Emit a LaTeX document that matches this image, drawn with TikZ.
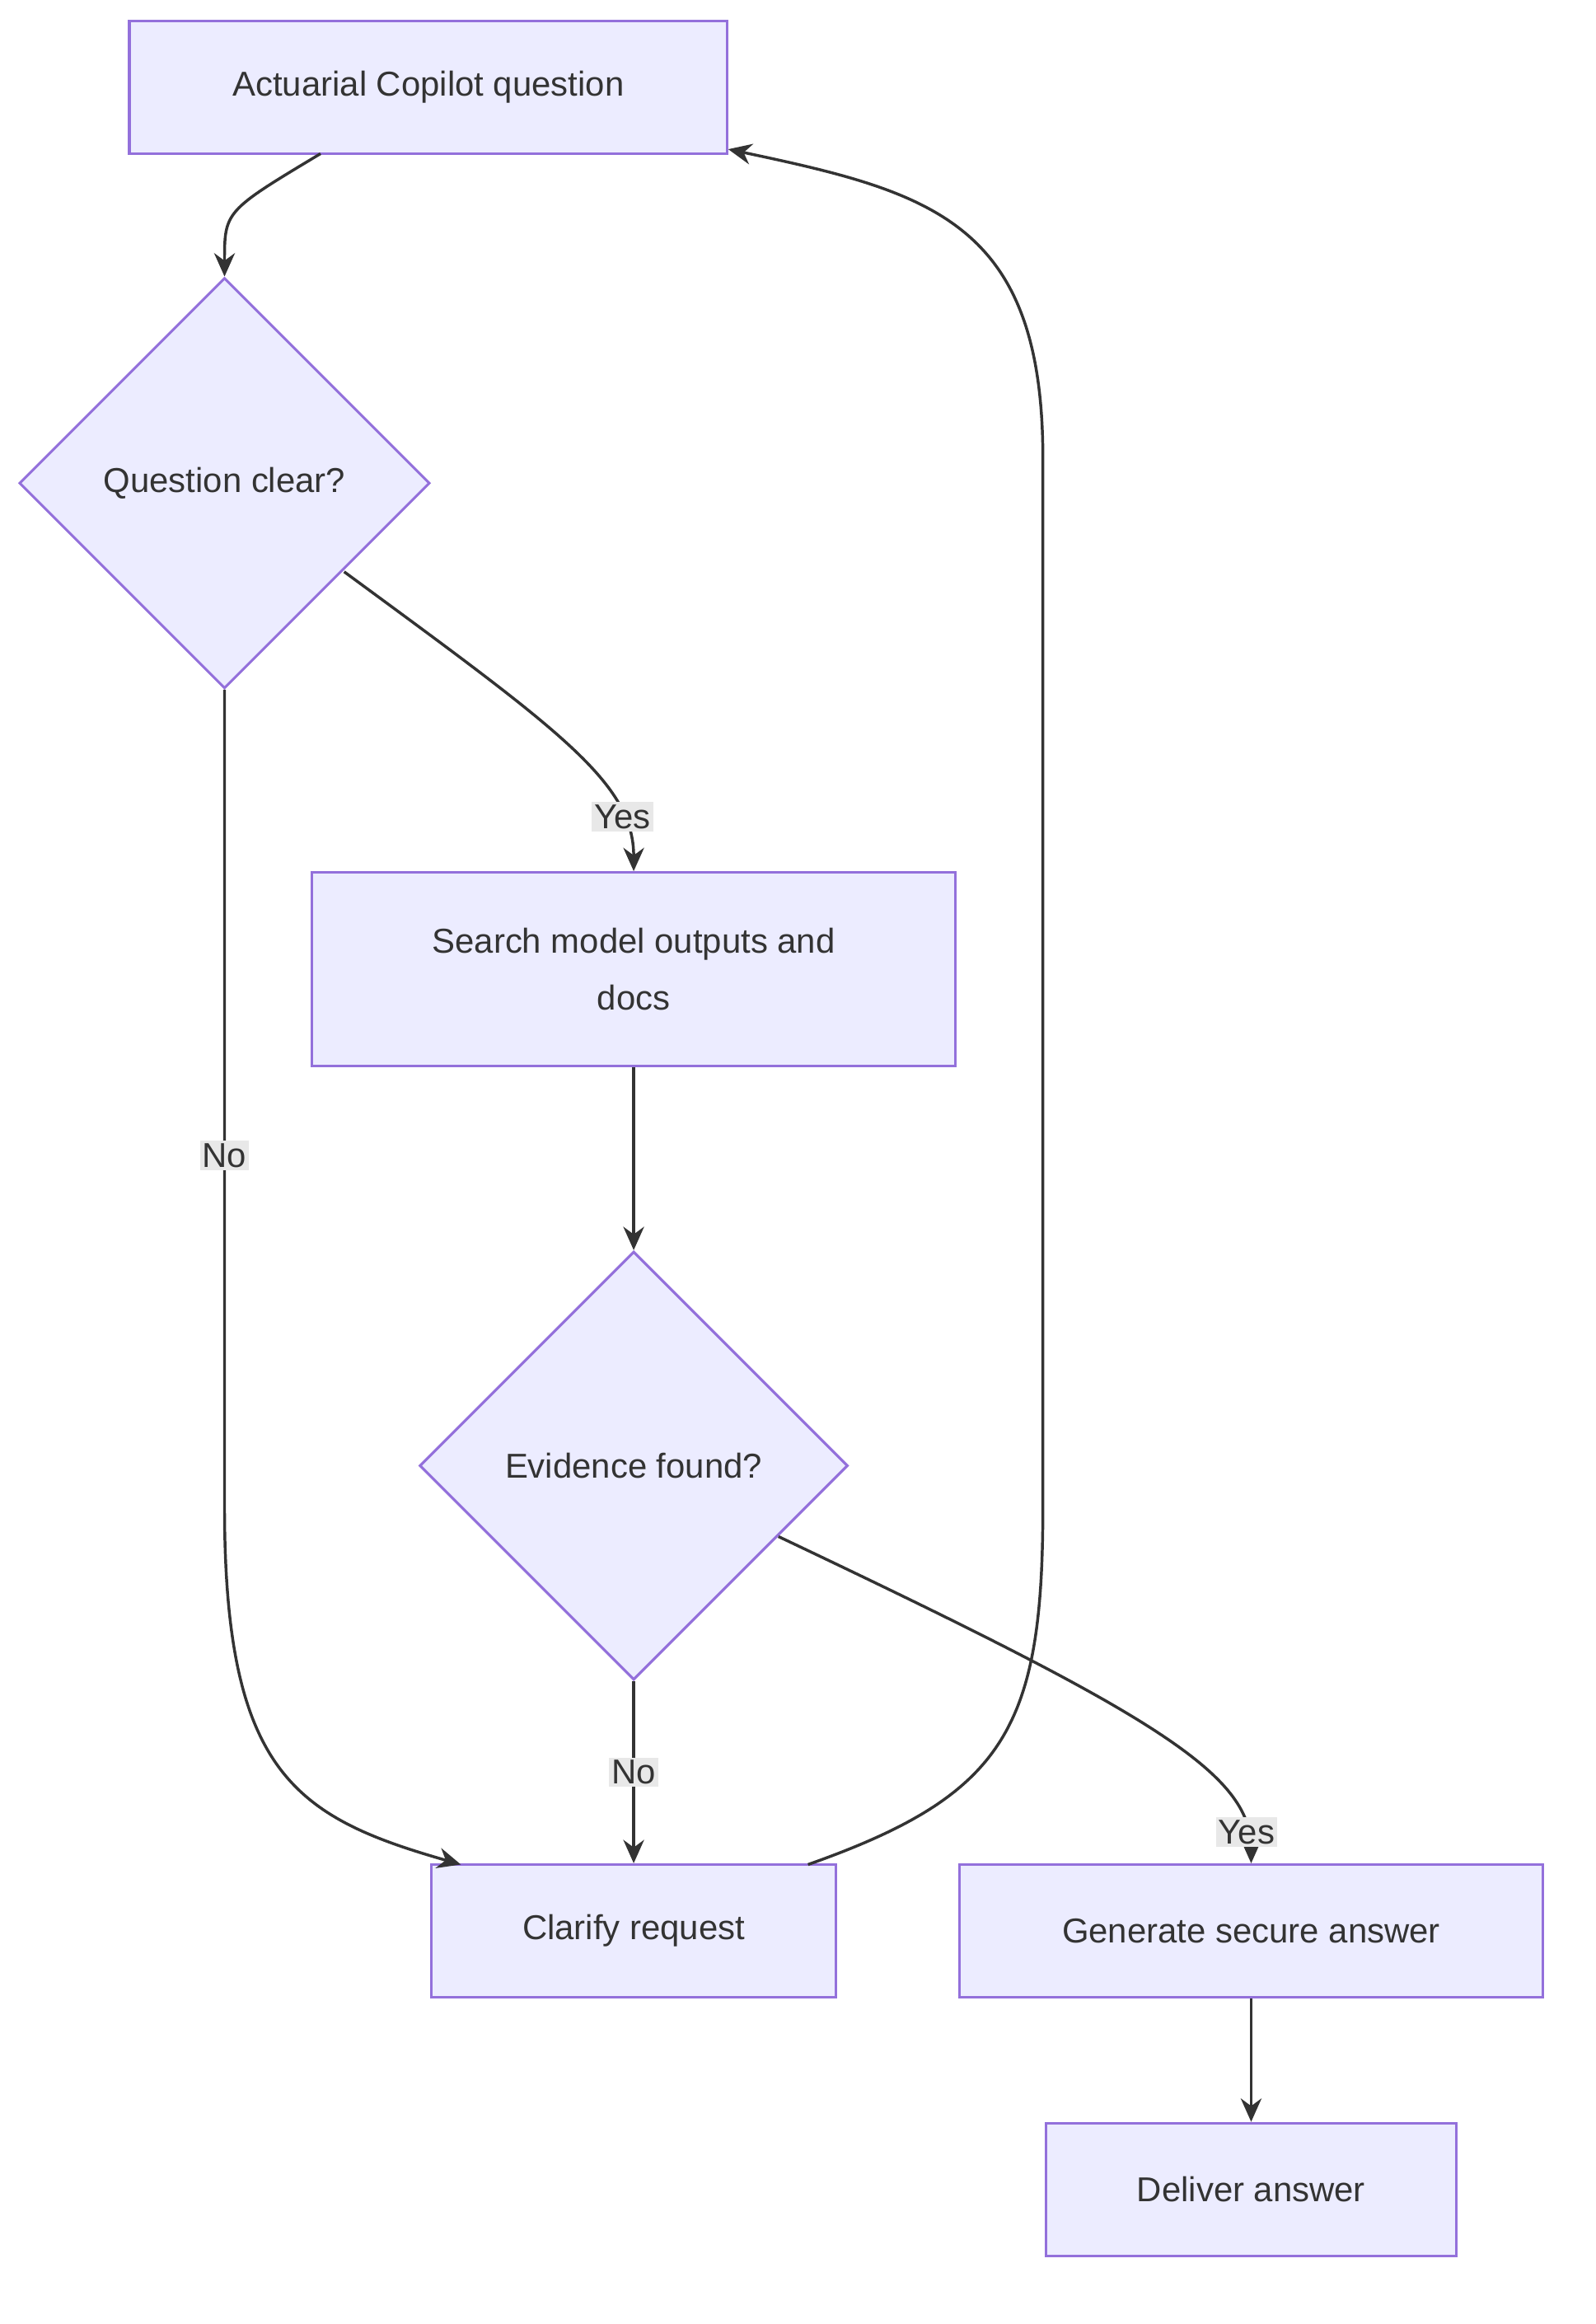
\documentclass[tikz,border=0pt]{standalone}
\usepackage{fontspec}
\setmainfont{Liberation Sans}
\usetikzlibrary{shapes.geometric,arrows.meta}
\definecolor{boxfill}{HTML}{ECECFF}
\definecolor{boxline}{HTML}{9370DB}
\definecolor{ink}{HTML}{333333}
\definecolor{lblfill}{HTML}{E8E8E8}
\tikzset{
  box/.style={draw=boxline,fill=boxfill,line width=1pt,text=ink,inner sep=0pt,align=center},
  decide/.style={box,diamond,aspect=1,minimum size=#1},
  link/.style={draw=ink,line width=1.1pt,-{Stealth[length=9pt,width=8pt]}},
  lbl/.style={fill=lblfill,text=ink,inner sep=1pt}
}
\begin{document}
\begin{tikzpicture}[x=0.02cm,y=-0.02cm,font=\fontsize{13.3}{22}\selectfont]
\useasboundingbox (0,0) rectangle (1080,1573);
% nodes
\node[box,minimum width=8.1cm,minimum height=1.8cm] (ask) at (290,59) {Actuarial Copilot question};
\node[decide=5.56cm] (clear) at (152,327) {Question clear?};
\node[box,minimum width=8.72cm,minimum height=2.62cm] (search) at (429,656) {Search model outputs and\\docs};
\node[decide=5.8cm] (found) at (429,992) {Evidence found?};
\node[box,minimum width=5.48cm,minimum height=1.8cm] (clarify) at (429,1307) {Clarify request};
\node[box,minimum width=7.9cm,minimum height=1.8cm] (gen) at (847,1307) {Generate secure answer};
\node[box,minimum width=5.56cm,minimum height=1.8cm] (deliver) at (847,1482) {Deliver answer};
% connector ends
\coordinate (askout) at (217,104);
\coordinate (askin) at (493,101);
\coordinate (clearyes) at (233,387);
\coordinate (clarin) at (312,1262);
\coordinate (clarout) at (547,1262);
\coordinate (foundyes) at (527,1040);
% connectors
\draw[link] (askout) .. controls (152,143) .. (clear.north);
\draw[link] (clearyes) .. controls (380,495) and (429,530) .. (search.north)
  node[lbl,pos=0.78] (y1) {Yes};
\draw[link] (clear.south) -- (152,1020) .. controls (152,1200) and (200,1230) .. (clarin);
\node[lbl] (n1) at (152,782) {No};
\draw[link] (search.south) -- (found.north);
\draw[link] (found.south) -- (clarify.north) node[lbl,midway] (n2) {No};
\draw[link] (foundyes) .. controls (780,1160) and (847,1200) .. (gen.north)
  node[lbl,pos=0.88] (y2) {Yes};
\draw[link] (clarout) .. controls (680,1215) and (706,1170) .. (706,1020)
  -- (706,310) .. controls (706,150) and (630,130) .. (askin);
\draw[link] (gen.south) -- (deliver.north);
\end{tikzpicture}
\end{document}
